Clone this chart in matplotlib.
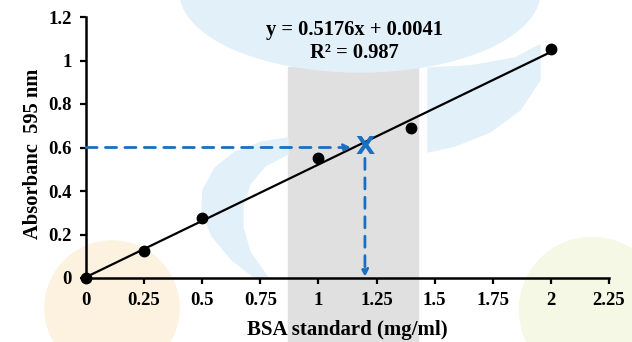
import matplotlib.pyplot as plt
from matplotlib.patches import Ellipse, Rectangle, Polygon

# Data
conc = [0, 0.25, 0.5, 1.0, 1.4, 2.0]
absorb = [0.0, 0.123, 0.276, 0.552, 0.69, 1.052]
slope = 0.5176
intercept = 0.0041
fit_x = [0, 2.0]
sample_x = 1.2
sample_y = 0.6
xticks = [0, 0.25, 0.5, 0.75, 1, 1.25, 1.5, 1.75, 2, 2.25]
xtick_labels = ['0', '0.25', '0.5', '0.75', '1', '1.25', '1.5', '1.75', '2', '2.25']
yticks = [0, 0.2, 0.4, 0.6, 0.8, 1, 1.2]
ytick_labels = ['0', '0.2', '0.4', '0.6', '0.8', '1', '1.2']

plt.rcParams['font.family'] = 'Liberation Serif'
plt.rcParams['font.weight'] = 'bold'
plt.rcParams['axes.labelweight'] = 'bold'

W, H = 632, 342
fig = plt.figure(figsize=(W / 100, H / 100), dpi=100)

# faint watermark shapes behind the plot (pixel positions, top-left origin)
def fx(px):
    return px / W

def fy(py):
    return 1 - py / H

blue = '#e2f0fa'
tf = fig.transFigure
fig.patches.append(Rectangle((fx(288), 0), 130 / W, (H - 67) / H, transform=tf,
                             color='#e0e0e0', zorder=-2))
fig.patches.append(Ellipse((fx(360), fy(-8)), 360 / W, 160 / H, transform=tf,
                           color=blue, zorder=-1))
right_pts = [(428, 68), (470, 66), (515, 58), (540, 45), (540, 80), (520, 110),
             (490, 132), (455, 146), (428, 152)]
fig.patches.append(Polygon([(fx(a), fy(b)) for a, b in right_pts], transform=tf,
                           color=blue, zorder=-1))
left_pts = [(288, 138), (262, 142), (235, 152), (215, 168), (203, 190), (202, 212),
            (212, 236), (232, 260), (258, 280), (268, 278), (250, 252), (243, 228),
            (243, 205), (250, 184), (265, 166), (288, 154)]
fig.patches.append(Polygon([(fx(a), fy(b)) for a, b in left_pts], transform=tf,
                           color=blue, zorder=-1))
fig.patches.append(Ellipse((fx(112), fy(308)), 134 / W, 134 / H, transform=tf,
                           color='#fdf1df', zorder=-1))
fig.patches.append(Ellipse((fx(592), fy(310)), 145 / W, 145 / H, transform=tf,
                           color='#f4f8e4', zorder=-1))

ax = fig.add_axes([86 / W, 1 - 278 / H, (609 - 86) / W, (278 - 17) / H])
ax.patch.set_alpha(0)

# trend line and points
fit_y = [slope * x + intercept for x in fit_x]
ax.plot(fit_x, fit_y, color='black', lw=1.6, zorder=3)
ax.plot(conc, absorb, 'o', color='black', ms=7.5, zorder=4, clip_on=False)

# reading of the unknown sample
col = '#1a6fc0'
ax.annotate('', xy=(sample_x - 0.06, sample_y), xytext=(0, sample_y),
            arrowprops=dict(arrowstyle='-|>', color=col, lw=2, ls=(0, (4, 3)),
                            shrinkA=0, shrinkB=0, mutation_scale=10), zorder=5)
ax.annotate('', xy=(sample_x, 0.005), xytext=(sample_x, sample_y - 0.05),
            arrowprops=dict(arrowstyle='-|>', color=col, lw=2, ls=(0, (4, 3)),
                            shrinkA=0, shrinkB=0, mutation_scale=10), zorder=5)
ax.text(sample_x, sample_y, 'X', color=col, fontsize=18, fontweight='bold',
        family='DejaVu Sans', ha='center', va='center', zorder=6)

ax.text(1.155, 1.14, 'y = 0.5176x + 0.0041', ha='center', va='center',
        fontsize=14.8, fontweight='bold')
ax.text(1.155, 1.034, 'R² = 0.987', ha='center', va='center',
        fontsize=14.8, fontweight='bold')

ax.set_xlim(0, 2.25)
ax.set_ylim(0, 1.2)
ax.set_xticks(xticks)
ax.set_xticklabels(xtick_labels, fontweight='bold')
ax.set_yticks(yticks)
ax.set_yticklabels(ytick_labels, fontweight='bold')
ax.tick_params(labelsize=13.5, width=1.6, length=4, pad=6)
for s in ['top', 'right']:
    ax.spines[s].set_visible(False)
for s in ['left', 'bottom']:
    ax.spines[s].set_linewidth(1.8)

ax.set_xlabel('BSA standard (mg/ml)', fontsize=15)
ax.xaxis.set_label_coords(0.5, -(340 - 278) / (278 - 17))
ax.xaxis.label.set_va('bottom')
ax.set_ylabel('Absorbanc  595 nm', fontsize=14.8)
ax.yaxis.set_label_coords(-43 / (609 - 86), (278 - 154) / (278 - 17))

fig.savefig('out.png', dpi=100)
